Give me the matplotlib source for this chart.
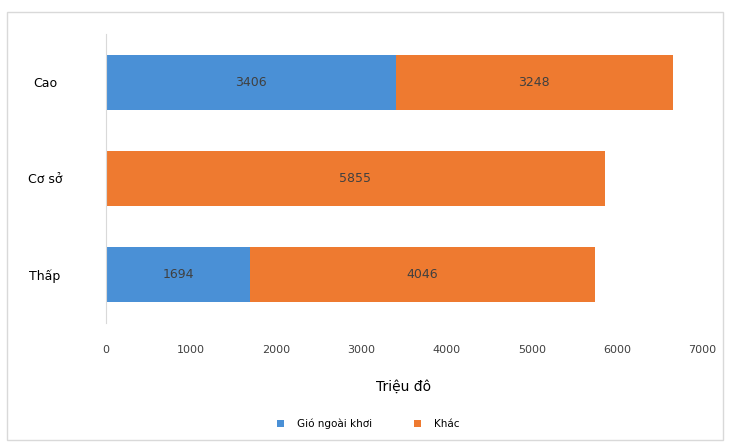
import matplotlib.pyplot as plt
from matplotlib.patches import Rectangle

# Scenario data (million USD)
scenarios = ["Thấp", "Cơ sở", "Cao"]
offshore_wind = [1694, 0, 3406]
other = [4046, 5855, 3248]
series_names = ["Gió ngoài khơi", "Khác"]
x_ticks = [0, 1000, 2000, 3000, 4000, 5000, 6000, 7000]

blue = "#4A90D6"
orange = "#EE7A30"

plt.rcParams["font.family"] = ["DejaVu Sans"]

fig = plt.figure(figsize=(7.29, 4.46), dpi=100)
ax = fig.add_axes((0.1454, 0.276, 0.8176, 0.648))

# Light frame around the whole chart
fig.patches.append(Rectangle((7 / 729, 6 / 446), 716 / 729, 428 / 446,
                             transform=fig.transFigure, fill=False,
                             edgecolor="#D9D9D9", linewidth=1))

pos = range(len(scenarios))
bars_a = ax.barh(pos, offshore_wind, height=0.57, color=blue, label=series_names[0])
bars_b = ax.barh(pos, other, left=offshore_wind, height=0.57, color=orange,
                 label=series_names[1])

for bars in (bars_a, bars_b):
    for b in bars:
        w = b.get_width()
        if w > 0:
            ax.text(b.get_x() + w / 2, b.get_y() + b.get_height() / 2, f"{w:.0f}",
                    ha="center", va="center", fontsize=9, color="#404040")

ax.set_xlim(0, 7000)
ax.set_ylim(-0.5, 2.5)
ax.set_xticks(x_ticks)
ax.set_xticklabels([str(t) for t in x_ticks], fontsize=8, color="#404040")
ax.set_yticks(list(pos))
ax.set_yticklabels(scenarios, fontsize=9, color="#000000", ha="center")
ax.tick_params(axis="x", length=0, pad=16)
ax.tick_params(axis="y", length=0, pad=44)
ax.set_xlabel("Triệu đô", fontsize=10, labelpad=18)

for side in ("top", "right", "bottom"):
    ax.spines[side].set_visible(False)
ax.spines["left"].set_color("#D9D9D9")

fig.legend(handles=[bars_a, bars_b], labels=series_names, loc="center",
           bbox_to_anchor=(0.505, 0.05), ncol=2, frameon=False, fontsize=7.5,
           handlelength=0.7, handleheight=0.7, handletextpad=1.2,
           columnspacing=4.0)

fig.savefig("out.png", dpi=100)
